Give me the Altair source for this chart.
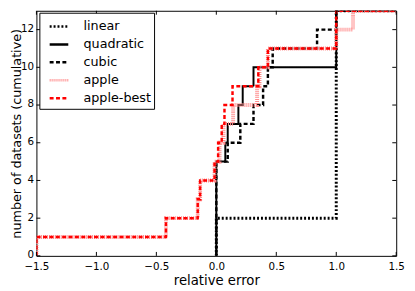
import altair as alt
import pandas as pd

# ---- data (sorted relative errors per method) ----
methods = ["linear", "quadratic", "cubic", "apple", "apple-best"]
linear_err = [0.0, 0.0, 1.0, 1.0, 1.0, 1.0, 1.0, 1.0, 1.0, 1.0, 1.0, 1.0, 1.0]
quadratic_err = [0.0, 0.0, 0.0, 0.0, 0.0, 0.075, 0.095, 0.184, 0.22, 0.31, 1.0, 1.0, 1.0]
cubic_err = [0.0, 0.0, 0.0, 0.0, 0.0, 0.095, 0.2, 0.31, 0.39, 0.43, 0.47, 0.84, 1.0]
apple_err = [-1.5, -0.42, -0.155, -0.135, -0.015, 0.027, 0.06, 0.14, 0.34, 0.36, 0.43, 1.0, 1.14]
apple_best_err = [-1.5, -0.42, -0.155, -0.135, -0.015, 0.015, 0.045, 0.068, 0.135, 0.35, 0.43, 1.0, 1.0]
x_end = 1.5

x_ticks = [-1.5, -1.0, -0.5, 0.0, 0.5, 1.0, 1.5]
y_ticks = [0, 2, 4, 6, 8, 10, 12]

colors = ["black", "black", "black", "#ff8c8c", "#ff0000"]
dashes = [[2, 2], [1, 0], [4, 2.5], [1, 1], [4, 2.5]]
widths = [3, 2, 2.5, 4, 2.5]

series = [linear_err, quadratic_err, cubic_err, apple_err, apple_best_err]
rows = []
for m, errs in zip(methods, series):
    rows.append({"method": m, "err": errs[0], "count": 0, "ord": 0})
    for i, e in enumerate(errs):
        rows.append({"method": m, "err": e, "count": i + 1, "ord": i + 1})
    rows.append({"method": m, "err": x_end, "count": len(errs), "ord": len(errs) + 1})
df = pd.DataFrame(rows)

W, H = 367, 250
FONT = "DejaVu Sans"

xscale = alt.Scale(domain=[-1.5, 1.5], nice=False, zero=False)
yscale = alt.Scale(domain=[0, 13], nice=False, zero=False)

color_enc = alt.Color("method:N", scale=alt.Scale(domain=methods, range=colors),
                      legend=alt.Legend(
                          orient="none", legendX=3, legendY=2, title=None,
                          symbolType="stroke", symbolSize=361, symbolStrokeWidth=2.5,
                          labelFontSize=13, labelFont=FONT, labelColor="black",
                          padding=3, symbolOffset=6, labelOffset=14, rowPadding=0.3,
                          strokeColor="black", fillColor="white", cornerRadius=0))
dash_enc = alt.StrokeDash("method:N", scale=alt.Scale(domain=methods, range=dashes),
                          legend=alt.Legend(orient="none", legendX=3, legendY=2, title=None))

x_enc = alt.X("err:Q", scale=xscale,
              axis=alt.Axis(values=x_ticks, format=".1f", ticks=False, domain=False, grid=False,
                            labelFlush=False, labelOverlap=False,
                            labelFontSize=10.5, labelFont=FONT, labelColor="black", labelPadding=6,
                            title="relative error", titleFontSize=13.5, titleFont=FONT,
                            titleFontWeight="normal", titleColor="black", titlePadding=2))
y_enc = alt.Y("count:Q", scale=yscale,
              axis=alt.Axis(values=y_ticks, format="d", ticks=False, domain=False, grid=False,
                            labelFlush=False, labelOverlap=False, labelOffset=-1,
                            labelFontSize=10.5, labelFont=FONT, labelColor="black", labelPadding=3,
                            title="number of datasets (cumulative)", titleFontSize=13,
                            titleFont=FONT, titleFontWeight="normal", titleColor="black",
                            titleX=-13, titleY=H / 2))

base = alt.Chart(df)
layers = []
for m, w in zip(methods, widths):
    layers.append(
        base.transform_filter(alt.datum.method == m)
        .mark_line(interpolate="step-after", strokeWidth=w, clip=True)
        .encode(x=x_enc, y=y_enc, color=color_enc, strokeDash=dash_enc,
                order=alt.Order("ord:Q"))
    )

xt = pd.DataFrame({"t": x_ticks})
yt = pd.DataFrame({"t": y_ticks})
tick_style = dict(color="black", strokeWidth=1)
ticks = [
    alt.Chart(xt).mark_rule(**tick_style).encode(x=alt.X("t:Q", scale=xscale), y=alt.value(H), y2=alt.value(H - 4)),
    alt.Chart(xt).mark_rule(**tick_style).encode(x=alt.X("t:Q", scale=xscale), y=alt.value(0), y2=alt.value(4)),
    alt.Chart(yt).mark_rule(**tick_style).encode(y=alt.Y("t:Q", scale=yscale), x=alt.value(0), x2=alt.value(4)),
    alt.Chart(yt).mark_rule(**tick_style).encode(y=alt.Y("t:Q", scale=yscale), x=alt.value(W - 4), x2=alt.value(W)),
]

chart = alt.layer(*layers, *ticks).properties(
    width=W, height=H,
    autosize=alt.AutoSizeParams(type="none"),
    padding={"left": 29, "top": 0, "right": 11, "bottom": 33},
).configure_view(stroke="black", strokeWidth=1).configure_axis(labelFont=FONT, titleFont=FONT)

chart.save("out.html", embed_options={"renderer": "svg", "actions": False})
